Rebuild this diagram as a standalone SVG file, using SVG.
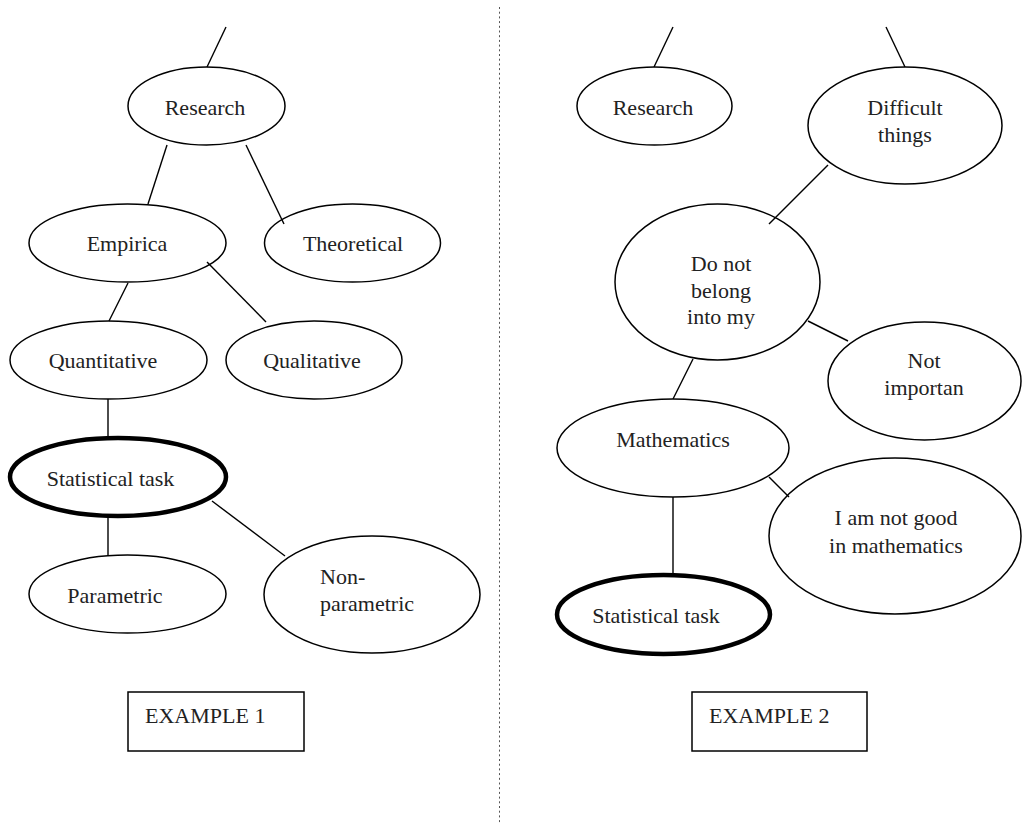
<svg xmlns="http://www.w3.org/2000/svg" width="1029" height="823" viewBox="0 0 1029 823">
<style>
.n ellipse{fill:#fff;stroke:#000;stroke-width:1.5}
.n ellipse.thick{stroke-width:4.5}
.n rect{fill:#fff;stroke:#000;stroke-width:1.5}
text{font-family:"Liberation Serif","Times New Roman",serif;font-size:22px;fill:#222}
.c{text-anchor:middle}
#connectors line{stroke:#000;stroke-width:1.4}
</style>
<rect width="1029" height="823" fill="#fff"/>
<line x1="499.5" y1="7" x2="499.5" y2="823" stroke="#555" stroke-width="1" stroke-dasharray="2 2.7"/>
<g id="ex1-research" class="n"><ellipse cx="206.5" cy="106" rx="78.5" ry="39"/><text class="c" x="205" y="115">Research</text></g>
<g id="ex1-empirica" class="n"><ellipse cx="127.5" cy="243" rx="98.5" ry="39"/><text class="c" x="127" y="251">Empirica</text></g>
<g id="ex1-theoretical" class="n"><ellipse cx="352.5" cy="243" rx="88" ry="39"/><text class="c" x="353" y="251">Theoretical</text></g>
<g id="ex1-quantitative" class="n"><ellipse cx="108.5" cy="360" rx="98.5" ry="39"/><text class="c" x="103" y="368">Quantitative</text></g>
<g id="ex1-qualitative" class="n"><ellipse cx="314" cy="360" rx="88" ry="39"/><text class="c" x="312" y="368">Qualitative</text></g>
<g id="ex1-statistical" class="n"><ellipse class="thick" cx="118" cy="477" rx="108" ry="39"/><text class="c" x="110.5" y="486">Statistical task</text></g>
<g id="ex1-parametric" class="n"><ellipse cx="127.5" cy="594" rx="98.5" ry="39"/><text class="c" x="115" y="603">Parametric</text></g>
<g id="ex1-nonparametric" class="n"><ellipse cx="372" cy="594.5" rx="108" ry="58.5"/><text x="320" y="584">Non-</text><text x="320" y="611">parametric</text></g>
<g id="ex1-label" class="n"><rect x="128" y="692" width="176" height="59"/><text x="145" y="723">EXAMPLE 1</text></g>
<g id="ex2-research" class="n"><ellipse cx="654.5" cy="106" rx="77.5" ry="39"/><text class="c" x="653" y="115">Research</text></g>
<g id="ex2-difficult" class="n"><ellipse cx="905" cy="125.5" rx="97" ry="58.5"/><text class="c" x="905" y="115">Difficult</text><text class="c" x="905" y="142">things</text></g>
<g id="ex2-donot" class="n"><ellipse cx="717.5" cy="282" rx="102.5" ry="78"/><text class="c" x="721" y="271">Do not</text><text class="c" x="721" y="298">belong</text><text class="c" x="721" y="324">into my</text></g>
<g id="ex2-notimportant" class="n"><ellipse cx="924.5" cy="381" rx="96.5" ry="59"/><text class="c" x="924" y="368">Not</text><text class="c" x="924" y="395">importan</text></g>
<g id="ex2-mathematics" class="n"><ellipse cx="673" cy="448" rx="116" ry="49"/><text class="c" x="673" y="447">Mathematics</text></g>
<g id="ex2-notgood" class="n"><ellipse cx="895" cy="536" rx="126" ry="78"/><text class="c" x="896" y="525">I am not good</text><text class="c" x="896" y="553">in mathematics</text></g>
<g id="ex2-statistical" class="n"><ellipse class="thick" cx="663.5" cy="614.5" rx="106.5" ry="39.5"/><text class="c" x="656" y="623">Statistical task</text></g>
<g id="ex2-label" class="n"><rect x="692" y="692" width="175" height="59"/><text x="709" y="723">EXAMPLE 2</text></g>
<g id="connectors">
<line x1="226" y1="27" x2="207" y2="67"/>
<line x1="167" y1="145" x2="148" y2="204"/>
<line x1="246" y1="145" x2="284" y2="224"/>
<line x1="128" y1="283" x2="109" y2="321"/>
<line x1="207" y1="262" x2="266" y2="322"/>
<line x1="108" y1="399" x2="108" y2="436"/>
<line x1="108" y1="518" x2="108" y2="556"/>
<line x1="212" y1="501" x2="285" y2="556"/>
<line x1="673" y1="27" x2="654" y2="67"/>
<line x1="886" y1="27" x2="905" y2="67"/>
<line x1="828" y1="165" x2="769" y2="224"/>
<line x1="808" y1="321" x2="848" y2="341"/>
<line x1="693" y1="359" x2="673" y2="399"/>
<line x1="673" y1="497" x2="673" y2="573"/>
<line x1="769" y1="477" x2="789" y2="497"/>
</g>
</svg>
